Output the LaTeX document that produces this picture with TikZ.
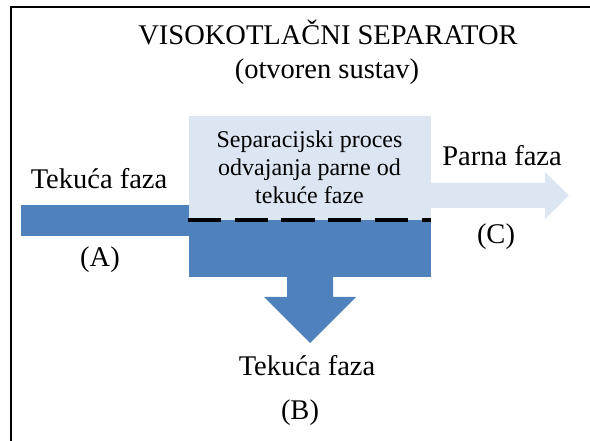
\documentclass[tikz,border=0pt]{standalone}
\usepackage{fontspec}
\setmainfont{Liberation Serif}
\definecolor{darkblue}{HTML}{4F81BD}
\definecolor{lightblue}{HTML}{DCE6F2}
\begin{document}
\begin{tikzpicture}[x=1pt,y=-1pt,
  bigtext/.style={font=\fontsize{28.5}{34}\selectfont, inner sep=0pt, anchor=base},
  boxtext/.style={font=\fontsize{24}{28}\selectfont, inner sep=0pt, anchor=base},
  frameline/.style={line width=2pt, black},
  darkfill/.style={fill=darkblue, draw=none},
  lightfill/.style={fill=lightblue, draw=none},
  sepline/.style={line width=3.5pt, black, dash pattern=on 33.3pt off 13.4pt}]
\useasboundingbox (0,0) rectangle (590,441);
% frame
\coordinate (fbl) at (11,441);
\coordinate (ftl) at (11,7);
\coordinate (ftr) at (590,7);
\draw[frameline] (fbl) -- (ftl) -- (ftr);
% light separation box
\fill[lightfill] (189,116) rectangle (431,220);
% dark liquid region and inlet bar
\fill[darkfill] (189,220) rectangle (431,277);
\fill[darkfill] (20.7,205) rectangle (189,236);
% down arrow (liquid out)
\fill[darkfill] (287,276) -- (333,276) -- (333,297) -- (356,297) -- (310,343) -- (264,297) -- (287,297) -- cycle;
% right arrow (vapour out)
\fill[lightfill] (430,183) -- (545,183) -- (545,172) -- (569,195.5) -- (545,219) -- (545,208) -- (430,208) -- cycle;
% separating dashed line
\coordinate (sl) at (188,220);
\coordinate (sr) at (431,220);
\draw[sepline] (sl) -- (sr);
% texts
\node[bigtext] (title) at (328,45) {VISOKOTLAČNI SEPARATOR};
\node[bigtext] (subtitle) at (327,79) {(otvoren sustav)};
\node[boxtext] (p1) at (309.5,147.5) {Separacijski proces};
\node[boxtext] (p2) at (309.5,176) {odvajanja parne od};
\node[boxtext] (p3) at (309.5,204) {tekuće faze};
\node[bigtext] (inlabel) at (99,189) {Tekuća faza};
\node[bigtext] (A) at (100,267) {(A)};
\node[bigtext] (vaplabel) at (502,166) {Parna faza};
\node[bigtext] (C) at (496,244) {(C)};
\node[bigtext] (liqlabel) at (307,375) {Tekuća faza};
\node[bigtext] (B) at (300,419) {(B)};
\end{tikzpicture}
\end{document}
